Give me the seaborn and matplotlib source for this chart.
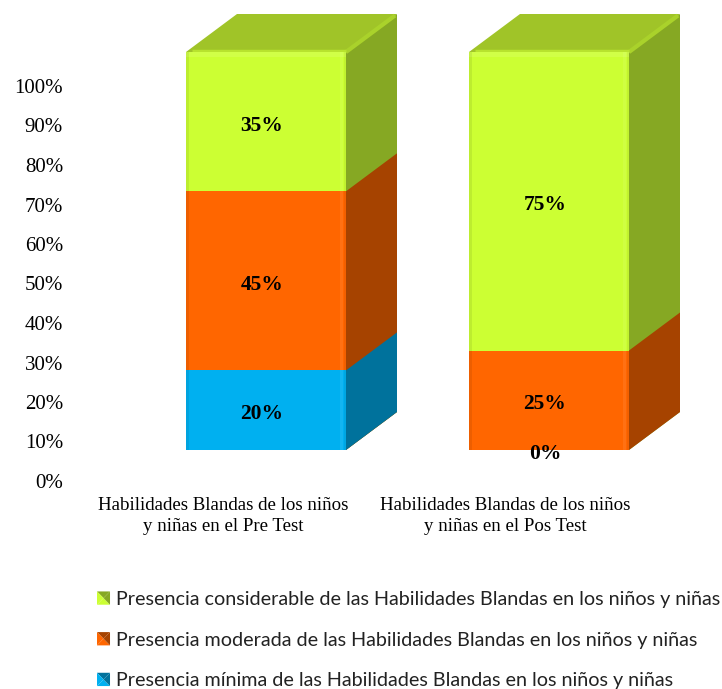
import matplotlib
matplotlib.use("Agg")
import pandas as pd
import matplotlib.pyplot as plt
import seaborn as sns
from matplotlib.patches import Patch, Polygon, Rectangle, FancyBboxPatch

# datos
categorias = ["Habilidades Blandas de los niños\ny niñas en el Pre Test",
              "Habilidades Blandas de los niños\ny niñas en el Pos Test"]
minima = [20, 0]
moderada = [45, 25]
considerable = [35, 75]
etiquetas = ["Presencia considerable de las Habilidades Blandas en los niños y niñas",
             "Presencia moderada de las Habilidades Blandas en los niños y niñas",
             "Presencia mínima de las Habilidades Blandas en los niños y niñas"]
ticks_y = list(range(0, 101, 10))

# colores: frente, lateral, tapa
VERDE = ("#CCFF33", "#86A823", "#A0C428")
NARANJA = ("#FF6600", "#A64300", "#A64300")
AZUL = ("#00B0F0", "#00729C", "#00729C")

W, H = 722, 689
sns.set_theme(style="white")
plt.rcParams["font.family"] = ["Liberation Serif", "DejaVu Serif"]

fig = plt.figure(figsize=(W / 100, H / 100), dpi=100)

# eje con las marcas: 0% en y=481 px, 100% en y=86 px
ax_t = fig.add_axes([70 / W, 1 - 481 / H, (W - 70) / W, 395 / H])
ax_t.set_ylim(0, 100)
ax_t.set_xlim((70 - 223) / 282, (W - 223) / 282)
ax_t.set_yticks(ticks_y, [f"{v}%" for v in ticks_y], fontsize=15)
ax_t.set_xticks([0, 1], categorias, fontsize=13.6, linespacing=1.3)
ax_t.tick_params(axis="y", length=0, pad=5, colors="black")
ax_t.tick_params(axis="x", length=0, pad=11.5, colors="black")
ax_t.grid(False)
sns.despine(ax=ax_t, left=True, bottom=True)
ax_t.patch.set_alpha(0)

# eje de las barras, ocupa toda la figura: 0 en y=450 px, 100 en y=52 px
ax = fig.add_axes([0, 0, 1, 1])
ax.patch.set_alpha(0)
PX_X = 283
PX_Y = 3.98

df = pd.DataFrame({"cat": [0, 1], "min": minima, "mod": moderada, "con": considerable})
df["c1"] = df["min"]
df["c2"] = df["min"] + df["mod"]
df["c3"] = df["c2"] + df["con"]

ANCHO = 160 / PX_X
DX = 51 / PX_X
DY = 38 / PX_Y

# barras de mayor a menor acumulado
for col, colores in [("c3", VERDE), ("c2", NARANJA), ("c1", AZUL)]:
    antes = len(ax.patches)
    sns.barplot(data=df, x="cat", y=col, color=colores[0], saturation=1, width=ANCHO,
                native_scale=True, ax=ax, linewidth=0, zorder=3)
    for b in ax.patches[antes:]:
        alto = b.get_height()
        if alto <= 0:
            continue
        x0 = b.get_x()
        x1 = x0 + b.get_width()
        # lateral
        ax.add_patch(Polygon([(x1, 0), (x1 + DX, DY), (x1 + DX, alto + DY), (x1, alto)],
                             closed=True, fc=colores[1], ec="none", zorder=2))
ax.set_xlim(-266 / PX_X, (W - 266) / PX_X)
ax.set_ylim(-(H - 450) / PX_Y, 450 / PX_Y)
ax.axis("off")

aspecto = PX_Y / PX_X
for i, fila in df.iterrows():
    x0 = fila["cat"] - ANCHO / 2
    x1 = fila["cat"] + ANCHO / 2
    tope = fila["c3"]
    # tapa
    ax.add_patch(Polygon([(x0, tope), (x0 + DX, tope + DY), (x1 + DX, tope + DY), (x1, tope)],
                         closed=True, fc=VERDE[2], ec="none", zorder=2.5))
    # aristas claras de la tapa
    ax.plot([x1, x1 + DX - 2 / PX_X], [tope, tope + DY - 1.5 / PX_Y], color="#AAD22B", lw=3,
            zorder=2.6, solid_capstyle="butt")
    ax.plot([x0 + 6 / PX_X, x1], [tope + 0.3, tope + 0.3], color="#B8E32E", lw=2.5,
            zorder=2.6, solid_capstyle="butt")
    # recorte redondeado del frente
    caja = FancyBboxPatch((x0, 0), ANCHO, tope, boxstyle=f"round,pad=0,rounding_size={7 / PX_X}",
                          mutation_aspect=aspecto, transform=ax.transData, fc="none", ec="none")
    ax.add_patch(caja)
    for b in ax.patches:
        if isinstance(b, Rectangle) and abs(b.get_x() - x0) < 1e-6:
            b.set_clip_path(caja)
    # brillo del frente
    for xr, wr, color, alfa in [(x0, 3 / PX_X, "black", 0.07),
                                (x1 - 6 / PX_X, 3 / PX_X, "white", 0.08),
                                (x1 - 2 / PX_X, 2 / PX_X, "black", 0.05)]:
        r = Rectangle((xr, 0), wr, tope, fc=color, alpha=alfa, ec="none", zorder=3.5)
        ax.add_patch(r)
        r.set_clip_path(caja)
    r = Rectangle((x0, tope - 5 / PX_Y), ANCHO, 5 / PX_Y, fc="white", alpha=0.1, ec="none", zorder=3.5)
    ax.add_patch(r)
    r.set_clip_path(caja)

    # etiquetas de valor
    base = 0
    for v in [fila["min"], fila["mod"], fila["con"]]:
        ax.annotate(f"{int(v)}%", (fila["cat"], base + v / 2), xytext=(-3, -3),
                    textcoords="offset points", ha="center", va="center",
                    fontsize=15.5, fontweight="bold", color="black", zorder=5)
        base += v


# marca de leyenda con bisel
class Bisel:
    def __init__(self, colores):
        self.colores = colores

    def legend_artist(self, legend, orig_handle, fontsize, handlebox):
        fr, la, _ = orig_handle.colores
        x, y = -handlebox.xdescent, -handlebox.ydescent
        w, h = handlebox.width, handlebox.height
        c = (x + w / 2, y + h / 2)
        esq = [(x, y), (x + w, y), (x + w, y + h), (x, y + h)]
        tonos = [fr, la, la, fr]
        for k in range(4):
            handlebox.add_artist(Polygon([esq[k], esq[(k + 1) % 4], c], closed=True, fc=tonos[k],
                                         ec="none", transform=handlebox.get_transform()))
        return handlebox


class Marca(Patch):
    def __init__(self, colores):
        super().__init__()
        self.colores = colores


marcas = [Marca(VERDE), Marca(NARANJA), Marca(AZUL)]
mapa = {m: Bisel(m.colores) for m in marcas}
fig.legend(marcas, etiquetas, handler_map=mapa, loc="upper left",
           bbox_to_anchor=(97 / W, 1 - 591 / H), borderaxespad=0, borderpad=0, frameon=False,
           prop={"family": "Lato", "size": 14.2}, labelcolor="#222222",
           handlelength=13 / 19.7, handleheight=13 / 19.7, handletextpad=0.3, labelspacing=1.2)

fig.savefig("out.png", dpi=100)
